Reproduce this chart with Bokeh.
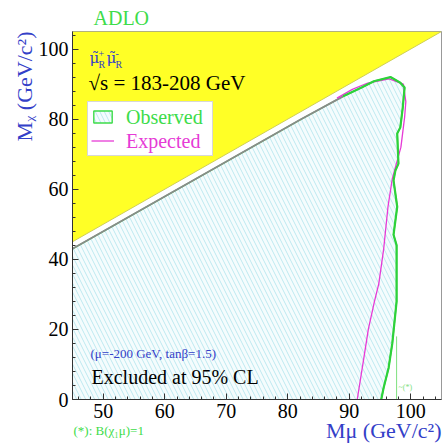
import math
from bokeh.plotting import figure
from bokeh.models import Label, Legend, LegendItem, SingleIntervalTicker, Title
from bokeh.embed import file_html
from bokeh.resources import INLINE

# ---------------- data ----------------
x_range = (45, 105)
y_range = (0, 105)
x_ticks_interval = 10
y_ticks_interval = 20

# kinematically forbidden region (M_chi > M_smuon)
forbid_x = [45, 105, 45]
forbid_y = [45, 105, 105]

# observed limit: part along the diagonal (grey)
diag_x = [45, 82, 89]
diag_y = [43.0, 79.8, 86.5]

# observed limit (green)
obs_x = [89, 92, 94, 96.7, 98.3, 99.0, 98.7, 98.3, 97.8, 98.0, 97.5, 97.2,
         97.8, 97.2, 97.7, 97.7, 97.7, 97.0, 96.4, 95.6, 95.2]
obs_y = [86.5, 89, 90.8, 92, 90.4, 89, 83.3, 77.6, 75.9, 67.3, 65.3, 62.5,
         55, 47, 44, 38, 28, 16, 9, 3.4, 0]

# expected limit (magenta)
exp_x = [88, 90.5, 93, 96.5, 98.8, 99.2, 99.0, 98.4, 97.0, 96.3, 95.6, 94.8,
         94.1, 93.1, 92.3, 91.3]
exp_y = [86, 88.5, 90.3, 91.5, 90.0, 85, 80.5, 72, 63, 55, 43, 33,
         28, 20, 11, 0]

# (*) B(chi mu)=1 limit
star_x = [97.7, 97.7]
star_y = [18, 0]

# excluded region polygon (outer points lie outside the frame)
excl_x = [44.0] + diag_x + obs_x[1:] + [95.1, 44.0]
excl_y = [42.0] + diag_y + obs_y[1:] + [-2.0, -2.0]

legend_labels = ["Observed", "Expected"]

# ---------------- styles ----------------
W, H = 443, 448
L, R, T, B = 72, 2, 31, 49
GREEN = "#2ed13a"
GREEN_TXT = "#3ddc4a"
MAGENTA = "#e63bd6"
BLUE = "#3340c8"
YELLOW = "#ffff26"
SERIF = "Liberation Serif"

p = figure(width=W, height=H, x_range=x_range, y_range=y_range,
           output_backend="svg", toolbar_location=None,
           min_border_left=L, min_border_right=R, min_border_top=T,
           min_border_bottom=B)
p.grid.visible = False
p.outline_line_color = "#999999"
p.background_fill_color = "white"

fw = W - L - R
fh = H - T - B


def X(px):
    return x_range[0] + (px - L) * (x_range[1] - x_range[0]) / fw


def Y(py):
    return y_range[0] + (T + fh - py) * (y_range[1] - y_range[0]) / fh


# forbidden region
p.patch(forbid_x, forbid_y, fill_color=YELLOW, line_color=None)
p.line(forbid_x[:2], forbid_y[:2], line_color="#cfcf55", line_width=1)

# excluded region
excl_r = p.patch(excl_x, excl_y, fill_color="#f5fcfd", line_color=GREEN_TXT,
                 line_width=1.4, hatch_pattern="\\", hatch_color="#bde9f0",
                 hatch_scale=9, hatch_weight=1)

p.line(diag_x, diag_y, line_color="#8a8a8a", line_width=1.8)
exp_r = p.line(exp_x, exp_y, line_color=MAGENTA, line_width=1.3)
p.line(obs_x, obs_y, line_color=GREEN, line_width=2.2)
p.line(star_x, star_y, line_color="#7ee07e", line_width=1)

# invisible renderer used only by the text-only legends
ghost = p.line(x=[], y=[], line_alpha=0)

# axes
for ax in (p.xaxis[0], p.yaxis[0]):
    ax.axis_line_color = "#333333"
    ax.major_tick_line_color = "#333333"
    ax.minor_tick_line_color = "#333333"
    ax.major_tick_in = 6
    ax.major_tick_out = 0
    ax.minor_tick_in = 3
    ax.minor_tick_out = 0
    ax.major_label_text_font = SERIF
    ax.major_label_text_font_size = "20px"
    ax.major_label_text_color = "black"
p.xaxis.ticker = SingleIntervalTicker(interval=x_ticks_interval, num_minor_ticks=5)
p.yaxis.ticker = SingleIntervalTicker(interval=y_ticks_interval, num_minor_ticks=5)
p.xaxis.major_label_standoff = 4
p.yaxis.major_label_standoff = 4

# title
p.title.text = "ADLO"
p.title.align = "left"
p.title.offset = 21
p.title.standoff = 5
p.title.text_font = SERIF
p.title.text_font_size = "20px"
p.title.text_font_style = "normal"
p.title.text_color = GREEN_TXT


def mk_title(text, size, color, align, offset, valign, standoff, fallback):
    t = Title(text=text, align=align, offset=offset, vertical_align=valign,
              text_font=SERIF, text_font_size=f"{size}px",
              text_font_style="normal", text_color=color)
    try:
        t.standoff = standoff
    except Exception:
        t.standoff = fallback
    return t


# y axis label
p.add_layout(mk_title("M\u1d6a (GeV/c\u00b2)", 22, BLUE, "right", 0, "bottom", -3, 0), "left")

# bottom row: footnote and x axis label
p.add_layout(mk_title("(*): B(\u03c7\u2081\u03bc)=1", 13, GREEN_TXT, "left", 1, "top", 4, 0), "below")
p.add_layout(mk_title("M\u03bc (GeV/c\u00b2)", 22, BLUE, "right", 0, "top", -48, 0), "below")

# legend: three legends with identical geometry stacked on each other
leg_geom = dict(location=(87 - L, T + fh - 156), glyph_width=23, glyph_height=15,
                label_height=23, label_width=82, label_standoff=13, padding=3,
                spacing=1, margin=0, label_text_font=SERIF,
                label_text_font_size="20px")
legA = Legend(items=[LegendItem(label=" ", renderers=[excl_r]),
                     LegendItem(label=" ", renderers=[exp_r])],
              label_text_color="white",
              background_fill_color="white", background_fill_alpha=1,
              border_line_color="#b0b0b0", border_line_width=1, **leg_geom)
legB1 = Legend(items=[LegendItem(label=legend_labels[0], renderers=[ghost]),
                      LegendItem(label=" ", renderers=[ghost])],
               label_text_color=GREEN_TXT, background_fill_alpha=0,
               border_line_alpha=0, **leg_geom)
legB2 = Legend(items=[LegendItem(label=" ", renderers=[ghost]),
                      LegendItem(label=legend_labels[1], renderers=[ghost])],
               label_text_color=MAGENTA, background_fill_alpha=0,
               border_line_alpha=0, **leg_geom)
p.add_layout(legA)
p.add_layout(legB1)
p.add_layout(legB2)


def lab(txt, px, py, size, color, font=SERIF):
    # py is the wanted baseline; small correction for how the baseline is placed
    p.add_layout(Label(x=X(px), y=Y(py - 0.32 * size), text=txt, text_font=font,
                       text_font_size=f"{size}px", text_color=color,
                       text_align="left", text_baseline="alphabetic"))


# process label
lab("\u03bc\u0303", 89, 62, 15, BLUE, "DejaVu Serif")
lab("+", 98, 56, 10, BLUE)
lab("R", 98, 67, 10, BLUE)
lab("\u03bc\u0303", 106, 62, 15, BLUE, "DejaVu Serif")
lab("-", 115, 56, 10, BLUE)
lab("R", 115, 67, 10, BLUE)
lab("\u221as = 183-208 GeV", 88, 89, 21, "black")

lab("(\u03bc=-200 GeV, tan\u03b2=1.5)", 90, 357, 13, BLUE)
lab("Excluded at 95% CL", 91, 383, 20, "black")
lab("~(*)", 398, 390, 8, "#7ee07e")

open("out.html", "w").write(file_html(p, INLINE))
